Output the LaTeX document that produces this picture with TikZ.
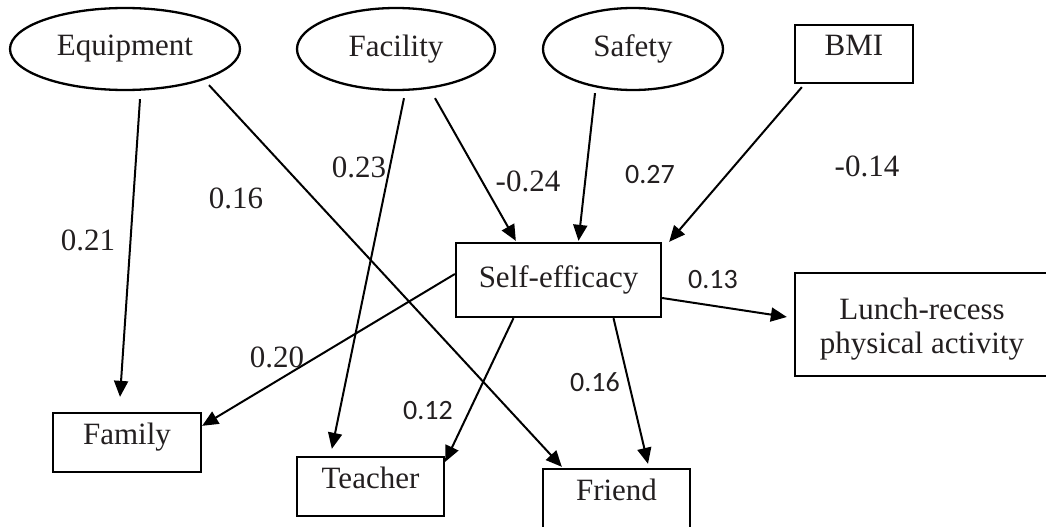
\documentclass[tikz,border=0pt]{standalone}
\usepackage{fontspec}
\setmainfont{Liberation Serif}
\newfontfamily\calib{Carlito}
\usetikzlibrary{arrows.meta,shapes.geometric}
\definecolor{txt}{RGB}{35,31,32}
\begin{document}
\begin{tikzpicture}[x=1pt,y=-1pt,font=\fontsize{31}{34}\selectfont,
  latent/.style={draw,ellipse,line width=2.3pt,inner sep=0pt,text=txt,minimum height=82pt},
  box/.style={draw,line width=2.3pt,inner sep=0pt,text=txt},
  raised/.style={text height=20pt,text depth=17pt},
  arr/.style={line width=2pt,-{Triangle[length=16pt,width=14pt]}},
  sanlab/.style={text=txt,font=\fontsize{28}{30}\selectfont\calib}]
\useasboundingbox (0,0) rectangle (1046,527);
% predictors
\node[latent,minimum width=230pt] (equip) at (125,49) {Equipment};
\node[latent,minimum width=198pt] (facil) at (396,49) {Facility};
\node[latent,minimum width=180pt] (safety) at (633,49) {Safety};
\node[box,raised,minimum width=118pt,minimum height=58pt] (bmi) at (854,54) {BMI};
% mediator and outcomes
\node[box,minimum width=205pt,minimum height=74pt] (self) at (558.5,280) {Self-efficacy};
\node[box,minimum width=254pt,minimum height=103pt,align=center] (lunch) at (922,324.5)
  {\rule{0pt}{31pt}Lunch-recess\\physical activity};
\node[box,raised,minimum width=148pt,minimum height=59pt] (family) at (127,442.5) {Family};
\node[box,raised,minimum width=147pt,minimum height=59pt] (teacher) at (370.5,486.5) {Teacher};
\node[box,raised,minimum width=147pt,minimum height=60pt] (friend) at (616.5,499) {Friend};
% paths
\draw[arr] ([xshift=15pt,yshift=-8pt]equip.south) -- ([xshift=-7pt,yshift=15pt]family.north);
\draw[arr] ([xshift=84pt,yshift=6pt]equip.south) -- ([xshift=20pt,yshift=1pt]friend.north west);
\draw[arr] ([xshift=8pt,yshift=-7pt]facil.south) -- ([xshift=36pt,yshift=7pt]teacher.north west);
\draw[arr] ([xshift=39pt,yshift=-7pt]facil.south) -- ([xshift=61pt,yshift=1pt]self.north west);
\draw[arr] ([xshift=-38pt,yshift=-2pt]safety.south) -- ([xshift=20pt,yshift=1pt]self.north);
\draw[arr] ([xshift=8pt,yshift=-3pt]bmi.south west) -- ([xshift=7pt]self.north east);
\draw[arr] ([yshift=6pt]self.west) -- ([yshift=-14pt]family.north east);
\draw[arr] ([xshift=-45pt]self.south) -- ([yshift=-6pt]teacher.north east);
\draw[arr] ([xshift=55pt]self.south) -- ([xshift=31.5pt,yshift=4pt]friend.north);
\draw[arr] ([yshift=-18pt]self.east) -- ([xshift=-7pt,yshift=7.5pt]lunch.west);
% coefficients
\foreach \n/\x/\y/\t in {a/88/240/0.21, b/236/198/0.16, c/359/167/0.23,
    d/528/181/-0.24, e/867/166/-0.14, f/277/357/0.20}
  \node[text=txt] (w\n) at (\x,\y) {\t};
\foreach \n/\x/\y/\t in {g/650/175/0.27, h/713/280/0.13, i/428/411/0.12, j/595/382/0.16}
  \node[sanlab] (w\n) at (\x,\y) {\t};
\end{tikzpicture}
\end{document}
